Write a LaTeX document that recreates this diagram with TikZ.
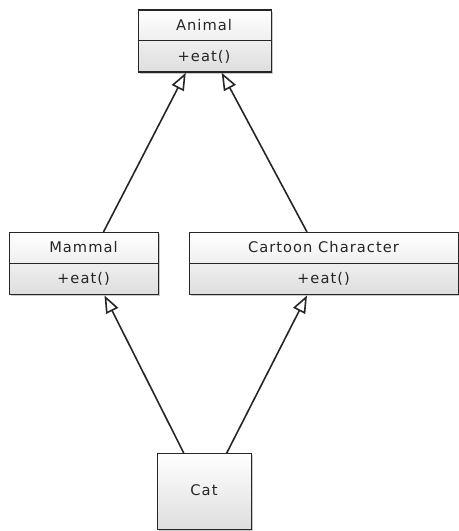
\documentclass[tikz,border=0pt]{standalone}
\usepackage{fontspec}
\setmainfont{DejaVu Sans}[LetterSpace=7]
\usetikzlibrary{arrows.meta,shadows}
\tikzset{
  classbox/.style={draw=black!85, line width=1.1pt, shade, top color=white, bottom color=black!13,
    drop shadow={shadow xshift=1.2pt, shadow yshift=-1.2pt, opacity=0.35, fill=black!60},
    inner sep=0pt, anchor=north west},
  divider/.style={draw=black!85, line width=1.1pt},
  lbl/.style={font=\fontsize{11}{13}\selectfont, text=black!85, inner sep=0pt},
  inherit/.style={draw=black!85, line width=1.2pt,
    -{Triangle[open, length=13pt, width=10pt, fill=white]}}
}
\begin{document}
\begin{tikzpicture}[x=0.75pt, y=-0.75pt]
\useasboundingbox (0,0) rectangle (459,531);
\clip (0,0) rectangle (459,531);
% Animal
\node[classbox, minimum width=99.75pt, minimum height=46.5pt] (animal) at (137.5,9.3) {};
\draw[divider] (137.5,40.6) -- (270.5,40.6);
\node[lbl] (animalname) at (204,25) {Animal};
\node[lbl] (animalop) at (204,56.5) {+eat()};
% Mammal
\node[classbox, minimum width=111.75pt, minimum height=46.5pt] (mammal) at (9,232) {};
\draw[divider] (9,263.3) -- (158,263.3);
\node[lbl] (mammalname) at (83.5,247.5) {Mammal};
\node[lbl] (mammalop) at (83.5,279) {+eat()};
% Cartoon Character
\node[classbox, minimum width=201.75pt, minimum height=46.5pt] (cartoon) at (189,232) {};
\draw[divider] (189,263.5) -- (458,263.5);
\node[lbl] (cartoonname) at (323.5,247.5) {Cartoon Character};
\node[lbl] (cartoonop) at (323.5,279) {+eat()};
% Cat
\node[classbox, minimum width=70.5pt, minimum height=57pt] (cat) at (157,453) {};
\node[lbl] (catname) at (204,490) {Cat};
% connectors
\draw[inherit] ([xshift=-42pt]mammal.north east) -- ([xshift=-14.25pt]animal.south);
\draw[inherit] ([xshift=88.5pt]cartoon.north west) -- ([xshift=12.75pt]animal.south);
\draw[inherit] ([xshift=-15.75pt]cat.north) -- ([xshift=-41.25pt]mammal.south east);
\draw[inherit] ([xshift=16.5pt]cat.north) -- ([xshift=88.5pt]cartoon.south west);
\end{tikzpicture}
\end{document}
